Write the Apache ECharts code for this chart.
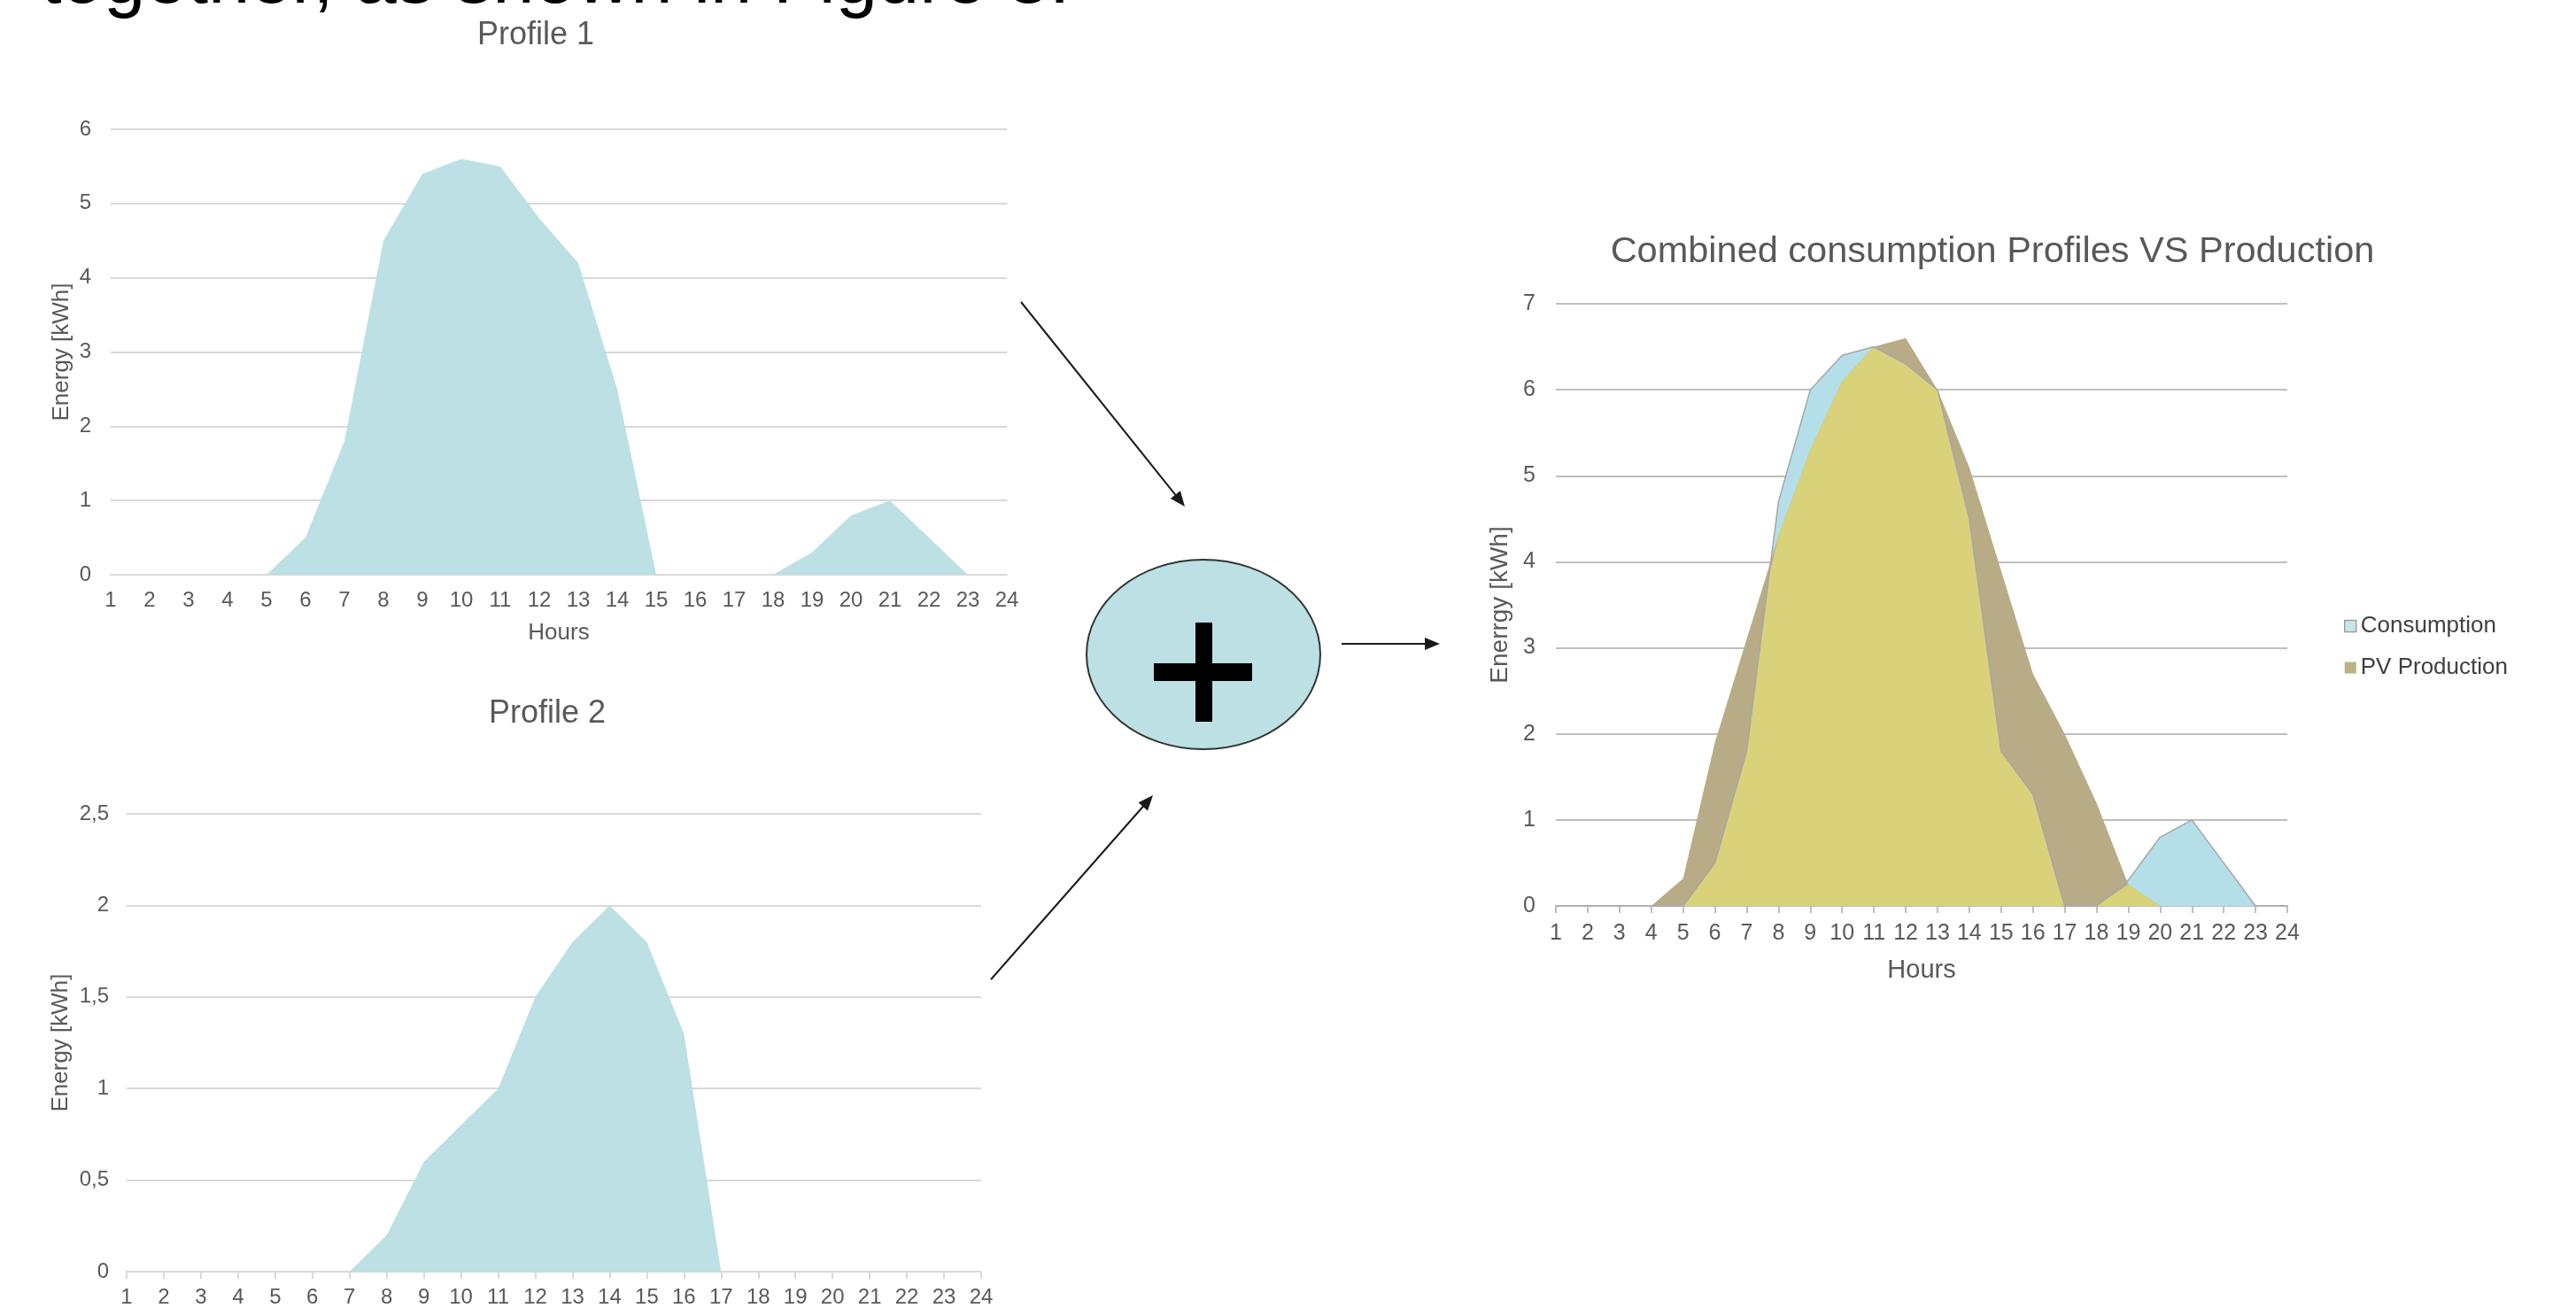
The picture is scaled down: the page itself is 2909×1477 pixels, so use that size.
<!DOCTYPE html>
<html>
<head>
<meta charset="utf-8">
<script src="https://cdn.jsdelivr.net/npm/echarts@6/dist/echarts.min.js"></script>
<style>
  html, body { margin: 0; padding: 0; background: #ffffff; }
  #chart { width: 2909px; height: 1477px; }
</style>
</head>
<body>
<div id="chart"></div>
<script>
// ---------- data ----------
const hours = ['1','2','3','4','5','6','7','8','9','10','11','12','13','14','15','16','17','18','19','20','21','22','23','24'];
const hourValues = [1,2,3,4,5,6,7,8,9,10,11,12,13,14,15,16,17,18,19,20,21,22,23,24];

const profile1 = [0,0,0,0,0,0.5,1.8,4.5,5.4,5.6,5.5,4.8,4.2,2.5,0,0,0,0,0.3,0.8,1.0,0.5,0,0];
const profile2 = [0,0,0,0,0,0,0,0.2,0.6,0.8,1.0,1.5,1.8,2.0,1.8,1.3,0,0,0,0,0,0,0,0];

const consumption  = [0,0,0,0,0,0.5,1.8,4.7,6.0,6.4,6.5,6.3,6.0,4.5,1.8,1.3,0,0,0.3,0.8,1.0,0.5,0,0];
const pvProduction = [0,0,0,0,0.32,1.9,3.1,4.3,5.3,6.1,6.5,6.6,6.0,5.1,3.9,2.7,2.0,1.2,0.25,0,0,0,0,0];

// yellow region where both areas overlap (vertices)
const overlapHours  = [1,2,3,4,5,6,7,7.71,8,9,10,11,12,13,14,15,16,17,18,19,20,21,22,23,24];
const overlapValues = [0,0,0,0,0,0.5,1.8,3.85,4.3,5.3,6.1,6.5,6.3,6.0,4.5,1.8,1.3,0,0,0.25,0,0,0,0,0];

const profile1Ticks = { min: 0, max: 6, interval: 1 };
const profile2Ticks = { min: 0, max: 2.5, interval: 0.5 };
const combinedTicks = { min: 0, max: 7, interval: 1 };

// ---------- styling ----------
const FONT = '"Liberation Sans", Arial, sans-serif';
const GREY_TEXT = '#595959';
const LIGHT_GRID = '#D9D9D9';
const DARK_GRID = '#BFBFBF';

const chart = echarts.init(document.getElementById('chart'), null, { renderer: 'canvas' });

function pairs(xs, ys) { return ys.map((v, i) => [xs[i], v]); }

function arrow(x1, y1, x2, y2) {
  const L = 17, W = 7;
  const dx = x2 - x1, dy = y2 - y1;
  const len = Math.sqrt(dx * dx + dy * dy);
  const ux = dx / len, uy = dy / len;
  const bx = x2 - ux * L, by = y2 - uy * L;
  return [
    { type: 'line', silent: true,
      shape: { x1: x1, y1: y1, x2: bx + ux * 2, y2: by + uy * 2 },
      style: { stroke: '#1a1a1a', lineWidth: 2 } },
    { type: 'polygon', silent: true,
      shape: { points: [[x2, y2], [bx - uy * W, by + ux * W], [bx + uy * W, by - ux * W]] },
      style: { fill: '#1a1a1a' } }
  ];
}

const axisLabel = (size, margin) => ({ color: GREY_TEXT, fontSize: size, fontFamily: FONT, margin: margin });
const nameStyle = (size) => ({ color: GREY_TEXT, fontSize: size, fontFamily: FONT });

const option = {
  animation: false,
  backgroundColor: '#ffffff',
  grid: [
    { left: 125, top: 146, width: 1012, height: 503 },
    { left: 143, top: 919, width: 965, height: 517 },
    { left: 1757, top: 343, width: 826, height: 680 }
  ],
  legend: {
    orient: 'vertical',
    left: 2642,
    top: 689,
    itemWidth: 13,
    itemHeight: 13,
    itemGap: 21,
    icon: 'rect',
    textStyle: { color: '#404040', fontSize: 26, fontFamily: FONT },
    data: [
      { name: 'Consumption', itemStyle: { color: '#C8E7EC', borderColor: '#9E9E9E', borderWidth: 1.5 } },
      { name: 'PV Production', itemStyle: { color: '#B9B283' } }
    ]
  },
  xAxis: [
    {
      gridIndex: 0, type: 'category', data: hours, boundaryGap: false,
      axisLine: { lineStyle: { color: LIGHT_GRID, width: 2 } },
      axisTick: { show: false },
      axisLabel: axisLabel(24, 17),
      name: 'Hours', nameLocation: 'middle', nameGap: 53, nameTextStyle: nameStyle(26)
    },
    {
      gridIndex: 1, type: 'category', data: hours, boundaryGap: false,
      axisLine: { lineStyle: { color: LIGHT_GRID, width: 2 } },
      axisTick: { show: true, length: 8, lineStyle: { color: LIGHT_GRID, width: 2 } },
      axisLabel: axisLabel(24, 17)
    },
    {
      gridIndex: 2, type: 'value', min: 1, max: 24, interval: 1,
      splitLine: { show: false },
      axisLine: { lineStyle: { color: DARK_GRID, width: 2 } },
      axisTick: { show: true, length: 8, lineStyle: { color: DARK_GRID, width: 2 } },
      axisLabel: axisLabel(25, 19),
      name: 'Hours', nameLocation: 'middle', nameGap: 58, nameTextStyle: nameStyle(29)
    }
  ],
  yAxis: [
    {
      gridIndex: 0, type: 'value', min: profile1Ticks.min, max: profile1Ticks.max, interval: profile1Ticks.interval,
      axisLine: { show: false }, axisTick: { show: false },
      splitLine: { lineStyle: { color: LIGHT_GRID, width: 2 } },
      axisLabel: axisLabel(24, 22),
      name: 'Energy [kWh]', nameLocation: 'middle', nameRotate: 90, nameGap: 42, nameTextStyle: nameStyle(26)
    },
    {
      gridIndex: 1, type: 'value', min: profile2Ticks.min, max: profile2Ticks.max, interval: profile2Ticks.interval,
      axisLine: { show: false }, axisTick: { show: false },
      splitLine: { lineStyle: { color: LIGHT_GRID, width: 2 } },
      axisLabel: Object.assign(axisLabel(24, 20), { formatter: v => String(v).replace('.', ',') }),
      name: 'Energy [kWh]', nameLocation: 'middle', nameRotate: 90, nameGap: 61, nameTextStyle: nameStyle(26)
    },
    {
      gridIndex: 2, type: 'value', min: combinedTicks.min, max: combinedTicks.max, interval: combinedTicks.interval,
      axisLine: { show: false }, axisTick: { show: false },
      splitLine: { lineStyle: { color: DARK_GRID, width: 2 } },
      axisLabel: axisLabel(25, 23),
      name: 'Enerrgy [kWh]', nameLocation: 'middle', nameRotate: 90, nameGap: 49, nameTextStyle: nameStyle(28)
    }
  ],
  series: [
    {
      name: 'Profile 1', type: 'line', xAxisIndex: 0, yAxisIndex: 0, data: profile1,
      symbol: 'none', lineStyle: { width: 0 }, areaStyle: { color: '#BCE0E3', opacity: 1 }
    },
    {
      name: 'Profile 2', type: 'line', xAxisIndex: 1, yAxisIndex: 1, data: profile2,
      symbol: 'none', lineStyle: { width: 0 }, areaStyle: { color: '#BCE0E3', opacity: 1 }
    },
    {
      name: 'Consumption', type: 'line', xAxisIndex: 2, yAxisIndex: 2, data: pairs(hourValues, consumption),
      symbol: 'none', itemStyle: { color: '#B5DFE8' },
      lineStyle: { width: 1.5, color: '#A6A6A6' }, areaStyle: { color: '#B5DFE8', opacity: 1 }
    },
    {
      name: 'PV Production', type: 'line', xAxisIndex: 2, yAxisIndex: 2, data: pairs(hourValues, pvProduction),
      symbol: 'none', itemStyle: { color: '#B8AC87' },
      lineStyle: { width: 0 }, areaStyle: { color: '#B8AC87', opacity: 1 }
    },
    {
      name: 'Overlap', type: 'line', xAxisIndex: 2, yAxisIndex: 2, data: pairs(overlapHours, overlapValues),
      symbol: 'none', itemStyle: { color: '#DAD27A' },
      lineStyle: { width: 0 }, areaStyle: { color: '#DAD27A', opacity: 1 }
    }
  ],
  graphic: [
    { type: 'text', silent: true, x: 46, y: -20,
      style: { text: 'together, as shown in Figure 3.', font: '85px ' + FONT, fill: '#000000', verticalAlign: 'middle', align: 'left' } },
    { type: 'text', silent: true, x: 605, y: 40,
      style: { text: 'Profile 1', font: '36px ' + FONT, fill: GREY_TEXT, align: 'center', verticalAlign: 'middle' } },
    { type: 'text', silent: true, x: 618, y: 806,
      style: { text: 'Profile 2', font: '36px ' + FONT, fill: GREY_TEXT, align: 'center', verticalAlign: 'middle' } },
    { type: 'text', silent: true, x: 2250, y: 285,
      style: { text: 'Combined consumption Profiles VS Production', font: '41.5px ' + FONT, fill: GREY_TEXT, align: 'center', verticalAlign: 'middle' } },
    { type: 'ellipse', silent: true, shape: { cx: 1359, cy: 739, rx: 132, ry: 107 },
      style: { fill: '#BCE0E3', stroke: '#333333', lineWidth: 2 } },
    { type: 'rect', silent: true, shape: { x: 1350, y: 703, width: 19, height: 112 }, style: { fill: '#000000' } },
    { type: 'rect', silent: true, shape: { x: 1303, y: 749, width: 111, height: 20 }, style: { fill: '#000000' } }
  ].concat(arrow(1153, 341, 1338, 572))
   .concat(arrow(1119, 1106, 1302, 898))
   .concat(arrow(1515, 727, 1626, 727))
};

chart.setOption(option);
</script>
</body>
</html>
